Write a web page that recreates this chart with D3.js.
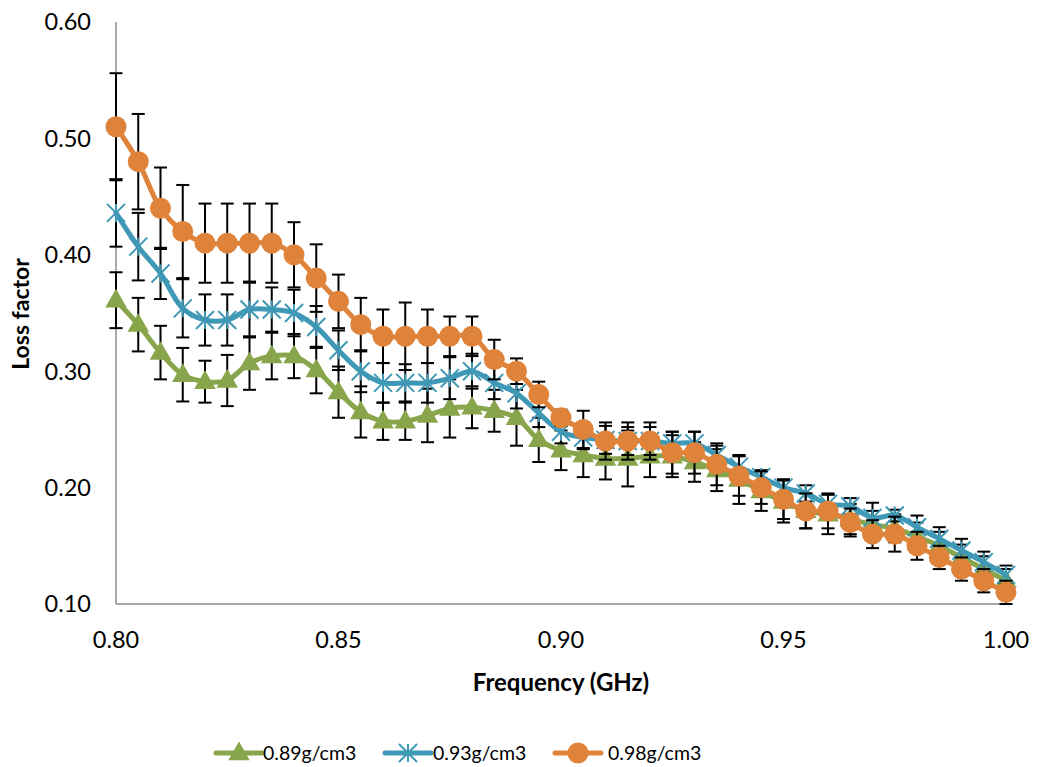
<!DOCTYPE html>
<html>
<head>
<meta charset="utf-8">
<script src="https://cdn.jsdelivr.net/npm/d3@7/dist/d3.min.js"></script>
<style>
body { margin: 0; background: #fff; }
svg { display: block; }
text { font-family: Lato, "Open Sans", sans-serif; fill: #000; }
</style>
</head>
<body>
<svg id="chart" width="1043" height="767"></svg>
<script>
const frequency = [0.800,0.805,0.810,0.815,0.820,0.825,0.830,0.835,0.840,0.845,
  0.850,0.855,0.860,0.865,0.870,0.875,0.880,0.885,0.890,0.895,
  0.900,0.905,0.910,0.915,0.920,0.925,0.930,0.935,0.940,0.945,
  0.950,0.955,0.960,0.965,0.970,0.975,0.980,0.985,0.990,0.995,1.000];

const series089 = [0.361,0.340,0.316,0.297,0.291,0.292,0.307,0.313,0.313,0.301,
  0.282,0.265,0.257,0.257,0.262,0.268,0.269,0.266,0.260,0.241,
  0.232,0.228,0.225,0.225,0.227,0.227,0.222,0.215,0.207,0.197,
  0.188,0.180,0.177,0.173,0.168,0.165,0.158,0.150,0.140,0.130,0.120];
const error089 = [0.024,0.023,0.023,0.023,0.018,0.022,0.023,0.020,0.019,0.020,
  0.022,0.022,0.016,0.016,0.023,0.025,0.018,0.018,0.024,0.019,
  0.017,0.019,0.018,0.024,0.018,0.018,0.017,0.018,0.021,0.017,
  0.018,0.015,0.017,0.013,0.012,0.012,0.012,0.012,0.011,0.011,0.010];

const series093 = [0.436,0.407,0.384,0.354,0.344,0.344,0.353,0.353,0.350,0.338,
  0.318,0.300,0.290,0.290,0.290,0.294,0.300,0.290,0.281,0.264,
  0.248,0.243,0.241,0.240,0.240,0.238,0.238,0.228,0.218,0.209,
  0.200,0.195,0.186,0.184,0.174,0.176,0.166,0.156,0.146,0.136,0.125];
const error093 = [0.029,0.029,0.022,0.025,0.022,0.022,0.024,0.019,0.020,0.018,
  0.017,0.018,0.017,0.016,0.017,0.018,0.015,0.014,0.013,0.012,
  0.010,0.010,0.012,0.012,0.012,0.010,0.010,0.008,0.009,0.006,
  0.007,0.007,0.008,0.007,0.013,0.005,0.010,0.010,0.010,0.009,0.008];

const series098 = [0.51,0.48,0.44,0.42,0.41,0.41,0.41,0.41,0.40,0.38,
  0.36,0.34,0.33,0.33,0.33,0.33,0.33,0.31,0.30,0.28,
  0.26,0.25,0.24,0.24,0.24,0.23,0.23,0.22,0.21,0.20,
  0.19,0.18,0.18,0.17,0.16,0.16,0.15,0.14,0.13,0.12,0.11];
const error098 = [0.046,0.041,0.035,0.040,0.034,0.034,0.034,0.034,0.028,0.029,
  0.023,0.023,0.023,0.029,0.023,0.017,0.017,0.017,0.011,0.011,
  0.007,0.016,0.016,0.016,0.016,0.018,0.018,0.018,0.017,0.014,
  0.017,0.015,0.015,0.012,0.012,0.015,0.012,0.010,0.010,0.010,0.010];

const seriesNames = ["0.89g/cm3","0.93g/cm3","0.98g/cm3"];
const xTicks = [0.80,0.85,0.90,0.95,1.00];
const yTicks = [0.10,0.20,0.30,0.40,0.50,0.60];

const svg = d3.select("#chart");
const x = d3.scaleLinear().domain([0.80,1.00]).range([116,1006]);
const y = d3.scaleLinear().domain([0.10,0.60]).range([604,22]);

const axisColor = "#8c8c8c";
// axes (no tick marks)
svg.append("line").attr("x1",x(0.8)).attr("x2",x(0.8)).attr("y1",y(0.6)).attr("y2",y(0.1))
  .attr("stroke",axisColor).attr("stroke-width",1.5);
svg.append("line").attr("x1",x(0.8)).attr("x2",x(1.0)).attr("y1",y(0.1)).attr("y2",y(0.1))
  .attr("stroke",axisColor).attr("stroke-width",1.5);

svg.selectAll(".ytick").data(yTicks).enter().append("text")
  .attr("x",91).attr("y",d=>y(d)).attr("dy","0.36em").attr("text-anchor","end")
  .style("font-size","23.5px").text(d=>d.toFixed(2));
svg.selectAll(".xtick").data(xTicks).enter().append("text")
  .attr("x",d=>x(d)).attr("y",640).attr("dy","0.36em").attr("text-anchor","middle")
  .style("font-size","23.5px").text(d=>d.toFixed(2));

svg.append("text").attr("x",561).attr("y",682).attr("dy","0.36em").attr("text-anchor","middle")
  .style("font-size","24px").style("font-weight","bold").text("Frequency (GHz)");
svg.append("text").attr("transform","translate(21,314) rotate(-90)").attr("dy","0.36em")
  .attr("text-anchor","middle").style("font-size","23px").style("font-weight","bold").text("Loss factor");

const colors = ["#89a54b","#3f98b5","#df833b"];
const values = [series089, series093, series098];
const errors = [error089, error093, error098];
const shapes = ["triangle","star","circle"];

function drawMarker(g, shape, cx, cy, color) {
  if (shape === "triangle") {
    g.append("path").attr("d", d3.symbol().type(d3.symbolTriangle).size(200)())
      .attr("transform",`translate(${cx},${cy+1})`).attr("fill",color);
  } else if (shape === "circle") {
    g.append("circle").attr("cx",cx).attr("cy",cy).attr("r",10.5).attr("fill",color);
  } else {
    const r = 9;
    const p = `M${cx-r},${cy-r}L${cx+r},${cy+r}M${cx-r},${cy+r}L${cx+r},${cy-r}M${cx},${cy-r}L${cx},${cy+r}`;
    g.append("path").attr("d",p).attr("stroke",color).attr("stroke-width",2).attr("fill","none");
  }
}

const curve = d3.curveCatmullRom.alpha(0.5);

values.forEach((vals, si) => {
  const g = svg.append("g");
  const err = errors[si];
  // error bars
  frequency.forEach((f, i) => {
    const cx = x(f), top = y(vals[i]+err[i]), bot = y(vals[i]-err[i]);
    g.append("line").attr("x1",cx).attr("x2",cx).attr("y1",top).attr("y2",bot).attr("stroke","#000").attr("stroke-width",2);
    g.append("line").attr("x1",cx-6.5).attr("x2",cx+6.5).attr("y1",top).attr("y2",top).attr("stroke","#000").attr("stroke-width",2);
    g.append("line").attr("x1",cx-6.5).attr("x2",cx+6.5).attr("y1",bot).attr("y2",bot).attr("stroke","#000").attr("stroke-width",2);
  });
  const line = d3.line().x((d,i)=>x(frequency[i])).y(d=>y(d)).curve(curve);
  g.append("path").datum(vals).attr("d",line).attr("fill","none")
    .attr("stroke",colors[si]).attr("stroke-width",5).attr("stroke-linejoin","round").attr("stroke-linecap","round");
  frequency.forEach((f,i)=> drawMarker(g, shapes[si], x(f), y(vals[i]), colors[si]));
});

// legend
const legendX = [216, 385, 555];
const legendTextX = [263, 433, 608];
seriesNames.forEach((name, si) => {
  const g = svg.append("g");
  const ly = 753;
  g.append("line").attr("x1",legendX[si]).attr("x2",legendX[si]+46).attr("y1",ly).attr("y2",ly)
    .attr("stroke",colors[si]).attr("stroke-width",5).attr("stroke-linecap","round");
  drawMarker(g, shapes[si], legendX[si]+23, ly, colors[si]);
  g.append("text").attr("x",legendTextX[si]).attr("y",ly).attr("dy","0.36em")
    .style("font-size","19.5px").text(name);
});
</script>
</body>
</html>
